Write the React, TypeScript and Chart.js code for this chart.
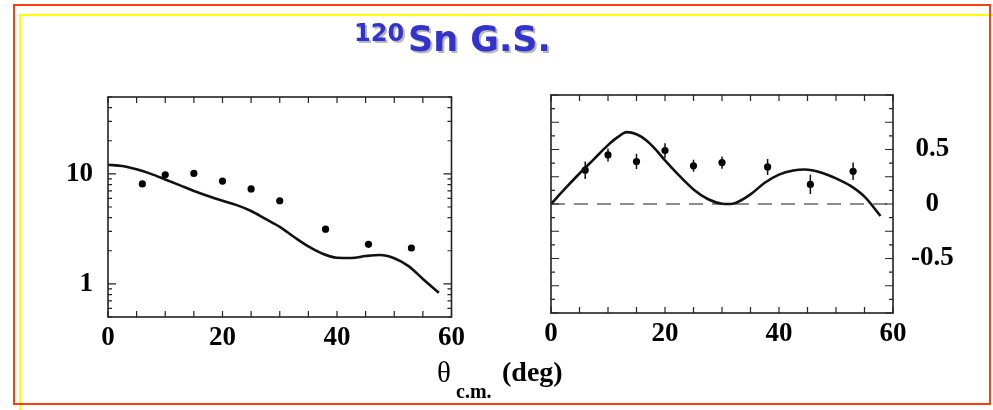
import React, { useEffect, useRef } from "react";
import { Chart, registerables } from "chart.js";

Chart.register(...registerables);

// ---------- data ----------
const angleLabelTicks = [0, 20, 40, 60];
const angleTickMarks = [0, 5, 10, 15, 20, 25, 30, 35, 40, 45, 50, 55, 60];

// left panel: cross section (log)
const crossAngles = [6, 10, 15, 20, 25, 30, 38, 45.5, 53];
const crossValues = [8.1, 9.8, 10.1, 8.6, 7.3, 5.7, 3.14, 2.29, 2.12];
const crossCurveAngles = [0, 2.5, 5, 7.5, 10, 12.5, 15, 17.5, 20, 22.5, 25, 27.5, 30, 32.5, 35, 37.5, 40, 42.5, 45, 47.5, 50, 52.5, 55, 57.8];
const crossCurveValues = [12.1, 11.8, 11.0, 10.0, 8.9, 7.9, 7.0, 6.3, 5.7, 5.2, 4.6, 3.9, 3.3, 2.67, 2.19, 1.88, 1.73, 1.72, 1.79, 1.83, 1.71, 1.45, 1.11, 0.83];
const crossLabelTicks = [1, 10];
const crossTickMarks = [0.5, 0.6, 0.7, 0.8, 0.9, 1, 2, 3, 4, 5, 6, 7, 8, 9, 10, 20, 30, 40, 50];
const crossMajorTicks = [1, 10];

// right panel: analyzing power
const anaAngles = [6, 10, 15, 20, 25, 30, 38, 45.5, 53];
const anaValues = [0.31, 0.45, 0.39, 0.49, 0.35, 0.38, 0.34, 0.18, 0.3];
const anaErrors = [0.08, 0.06, 0.07, 0.067, 0.055, 0.056, 0.073, 0.088, 0.08];
const anaCurveAngles = [0, 2.5, 5, 7.5, 10, 11.7, 13.3, 15, 16.7, 18.3, 20, 22.5, 25, 27.5, 30, 31.4, 32.5, 35, 37.5, 40, 42.5, 44.5, 47.5, 50, 52.5, 55, 57.8];
const anaCurveValues = [0, 0.143, 0.28, 0.41, 0.54, 0.613, 0.659, 0.64, 0.585, 0.503, 0.4, 0.26, 0.134, 0.046, 0.003, 0, 0.012, 0.088, 0.195, 0.27, 0.308, 0.317, 0.287, 0.235, 0.168, 0.067, -0.11];
const anaZeroLine = [0, 60];
const anaLabelTicks = [-0.5, 0, 0.5];
const anaTickMarks = [-1, -0.875, -0.75, -0.625, -0.5, -0.375, -0.25, -0.125, 0, 0.125, 0.25, 0.375, 0.5, 0.625, 0.75, 0.875, 1];
const anaMajorTicks = [-1, -0.75, -0.5, -0.25, 0, 0.25, 0.5, 0.75, 1];

const serifFont = "'Liberation Serif', 'Times New Roman', serif";
const tickFont = { family: serifFont, size: 27, weight: "bold" as const };

function makeFramePlugin(xMarks: number[], yMarks: number[], yMajor: number[]) {
  return {
    id: "frameTicks",
    afterDatasetsDraw(chart: any) {
      const { ctx, chartArea: a, scales } = chart;
      const xs = scales.x;
      const ys = scales.y;
      ctx.save();
      ctx.strokeStyle = "#222";
      ctx.lineWidth = 1.2;
      ctx.beginPath();
      for (const t of xMarks) {
        const px = xs.getPixelForValue(t);
        ctx.moveTo(px, a.bottom);
        ctx.lineTo(px, a.bottom - 6);
        ctx.moveTo(px, a.top);
        ctx.lineTo(px, a.top + 6);
      }
      for (const t of yMarks) {
        const py = ys.getPixelForValue(t);
        const len = yMajor.includes(t) ? 8 : 4;
        ctx.moveTo(a.left, py);
        ctx.lineTo(a.left + len, py);
        ctx.moveTo(a.right, py);
        ctx.lineTo(a.right - len, py);
      }
      ctx.stroke();
      ctx.lineWidth = 1.6;
      ctx.strokeRect(a.left, a.top, a.right - a.left, a.bottom - a.top);
      ctx.restore();
    },
  };
}

const errorBarPlugin = {
  id: "errorBars",
  afterDatasetsDraw(chart: any) {
    const { ctx, scales } = chart;
    ctx.save();
    ctx.strokeStyle = "#111";
    ctx.lineWidth = 1.5;
    ctx.beginPath();
    anaAngles.forEach((ang, i) => {
      const px = scales.x.getPixelForValue(ang);
      ctx.moveTo(px, scales.y.getPixelForValue(anaValues[i] - anaErrors[i]));
      ctx.lineTo(px, scales.y.getPixelForValue(anaValues[i] + anaErrors[i]));
    });
    ctx.stroke();
    ctx.restore();
  },
};

function xScale(padding: number) {
  return {
    type: "linear" as const,
    position: "bottom" as const,
    min: 0,
    max: 60,
    afterFit: (s: any) => {
      s.height = 60;
    },
    afterBuildTicks: (s: any) => {
      s.ticks = angleLabelTicks.map((v) => ({ value: v }));
    },
    grid: { display: false, drawTicks: false },
    border: { display: false },
    ticks: { font: tickFont, color: "#000", padding, maxRotation: 0, autoSkip: false, callback: (v: any) => String(v) },
  };
}

function CrossChart() {
  const ref = useRef<HTMLCanvasElement>(null);
  useEffect(() => {
    const chart = new Chart(ref.current!, {
      type: "scatter",
      data: {
        datasets: [
          {
            type: "line",
            data: crossCurveAngles.map((x, i) => ({ x, y: crossCurveValues[i] })),
            borderColor: "#111",
            borderWidth: 2.6,
            pointRadius: 0,
            cubicInterpolationMode: "monotone",
            fill: false,
          },
          {
            type: "scatter",
            data: crossAngles.map((x, i) => ({ x, y: crossValues[i] })),
            backgroundColor: "#000",
            borderWidth: 0,
            pointRadius: 3.6,
          },
        ],
      } as any,
      options: {
        animation: false,
        responsive: false,
        layout: { padding: { left: 0, top: 97, right: 18, bottom: 33 } },
        plugins: { legend: { display: false }, tooltip: { enabled: false } },
        scales: {
          x: xScale(5),
          y: {
            type: "logarithmic",
            min: 0.5,
            max: 50,
            afterFit: (s: any) => {
              s.width = 108;
            },
            afterBuildTicks: (s: any) => {
              s.ticks = crossLabelTicks.map((v) => ({ value: v }));
            },
            grid: { display: false, drawTicks: false },
            border: { display: false },
            ticks: { font: tickFont, color: "#000", padding: 15, callback: (v: any) => String(v) },
          },
        },
      } as any,
      plugins: [makeFramePlugin(angleTickMarks, crossTickMarks, crossMajorTicks)],
    });
    return () => chart.destroy();
  }, []);
  return <canvas ref={ref} width={470} height={410} style={{ position: "absolute", left: 0, top: 0, width: 470, height: 410 }} />;
}

function AnaChart() {
  const ref = useRef<HTMLCanvasElement>(null);
  useEffect(() => {
    const chart = new Chart(ref.current!, {
      type: "scatter",
      data: {
        datasets: [
          {
            type: "line",
            data: anaZeroLine.map((x) => ({ x, y: 0 })),
            borderColor: "#1a1a1a",
            borderWidth: 1.1,
            borderDash: [14, 9],
            pointRadius: 0,
            fill: false,
          },
          {
            type: "line",
            data: anaCurveAngles.map((x, i) => ({ x, y: anaCurveValues[i] })),
            borderColor: "#111",
            borderWidth: 2.6,
            pointRadius: 0,
            cubicInterpolationMode: "monotone",
            fill: false,
          },
          {
            type: "scatter",
            data: anaAngles.map((x, i) => ({ x, y: anaValues[i] })),
            backgroundColor: "#000",
            borderWidth: 0,
            pointRadius: 3.6,
          },
        ],
      } as any,
      options: {
        animation: false,
        responsive: false,
        layout: { padding: { left: 61, top: 95, right: 30, bottom: 37 } },
        plugins: { legend: { display: false }, tooltip: { enabled: false } },
        scales: {
          x: xScale(5),
          y: {
            type: "linear",
            position: "right",
            min: -1,
            max: 1,
            afterFit: (s: any) => {
              s.width = 70;
            },
            afterBuildTicks: (s: any) => {
              s.ticks = anaLabelTicks.map((v) => ({ value: v }));
            },
            grid: { display: false, drawTicks: false },
            border: { display: false },
            ticks: { font: tickFont, color: "#000", padding: 18, crossAlign: "center", callback: (v: any) => String(v) },
          },
        },
      } as any,
      plugins: [makeFramePlugin(angleTickMarks, anaTickMarks, anaMajorTicks), errorBarPlugin],
    });
    return () => chart.destroy();
  }, []);
  return <canvas ref={ref} width={503} height={410} style={{ position: "absolute", left: 490, top: 0, width: 503, height: 410 }} />;
}

export default function App() {
  const titleBase = {
    position: "absolute" as const,
    fontFamily: "'DejaVu Sans', Verdana, sans-serif",
    fontWeight: "bold" as const,
    color: "#3333cc",
    textShadow: "2px 2px 0 rgba(0,0,0,0.28)",
    lineHeight: 1,
    whiteSpace: "nowrap" as const,
  };
  const serifBase = {
    position: "absolute" as const,
    fontFamily: serifFont,
    color: "#000",
    lineHeight: 1,
    whiteSpace: "nowrap" as const,
  };
  return (
    <div style={{ position: "absolute", left: 0, top: 0, width: 993, height: 410, overflow: "hidden", background: "#fff" }}>
      <div style={{ position: "absolute", left: 19, top: 14, width: 1000, height: 500, border: "2px solid #ffff00", boxSizing: "border-box" }} />
      <div style={{ position: "absolute", left: 13, top: 4, width: 978, height: 401, border: "2px solid #ff3c14", boxSizing: "border-box" }} />
      <CrossChart />
      <AnaChart />
      <span style={{ ...titleBase, left: 354, top: 21, fontSize: 24 }}>120</span>
      <span style={{ ...titleBase, left: 408, top: 22, fontSize: 35 }}>Sn G.S.</span>
      <span style={{ ...serifBase, left: 437, top: 358, fontSize: 29 }}>θ</span>
      <span style={{ ...serifBase, left: 456, top: 381, fontSize: 20, fontWeight: "bold" }}>c.m.</span>
      <span style={{ ...serifBase, left: 502, top: 358, fontSize: 28, fontWeight: "bold" }}>(deg)</span>
    </div>
  );
}
